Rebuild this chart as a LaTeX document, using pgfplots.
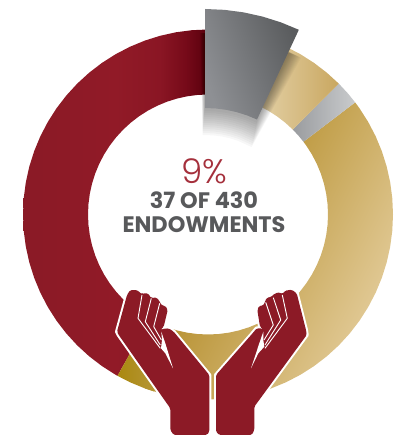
\documentclass[border=0pt]{standalone}
\usepackage{fontspec}
\usepackage{pgfplots}
\usepackage{pgfplotstable}
\pgfplotsset{compat=1.18}
\setmainfont{Poppins}
\newfontfamily\lightfont{Poppins Light}
\newfontfamily\boldfont{Poppins Bold}
\definecolor{redhand}{HTML}{8C1A26}
\definecolor{reda}{HTML}{8A1A26}
\definecolor{redb}{HTML}{911A27}
\definecolor{redm}{HTML}{8A1624}
\definecolor{redn}{HTML}{760A19}
\definecolor{redc}{HTML}{58000D}
\definecolor{greya}{HTML}{8E9094}
\definecolor{greyb}{HTML}{949699}
\definecolor{greyc}{HTML}{5A5C5E}
\definecolor{palea}{HTML}{EADBB8}
\definecolor{paleb}{HTML}{E3CE9C}
\definecolor{palec}{HTML}{C9A760}
\definecolor{banda}{HTML}{9A9C9F}
\definecolor{bandb}{HTML}{C9CBCD}
\definecolor{tana}{HTML}{A67A08}
\definecolor{tanb}{HTML}{E4CD9C}
\definecolor{golda}{HTML}{AA8810}
\definecolor{goldb}{HTML}{B89A40}
\definecolor{txtred}{HTML}{A5303C}
\definecolor{txtgrey}{HTML}{58595B}
\pgfdeclarehorizontalshading{redring}{100bp}{color(0bp)=(reda); color(25bp)=(reda); color(50bp)=(redb); color(62bp)=(redm); color(69bp)=(redn); color(75bp)=(redc); color(100bp)=(redc)}
\pgfplotsset{canvas/.style={hide axis, scale only axis, width=393pt, height=435pt, at={(0,0)}, anchor=south west},
  shadowlayer/.style={data cs=polar, draw=none, fill=black, fill opacity=.03}}
\pgfplotstableread{
x y
173.7 435
170.3 430
170.3 408.3
118.7 335
117 331.7
127 295
130.3 290
137 290
142 294.3
143 293.3
148 293.3
151.3 298.3
152.7 297.7
157 297.7
159.7 301.7
162 305.7
165.3 305.7
167.7 310
163.7 326.7
160.3 330
162 329
168.7 328.3
173.7 331.7
209.3 375
209.3 431.7
207 435
}\lefthand
\pgfplotstableread{
x y
219.3 435
216 431.7
216 375
251.7 334.3
256.7 328.3
261.7 328.3
265 331
260 326.7
257.3 310
259.3 305.7
263.3 305.7
265 301.7
266.7 297.7
271 297
275 293.3
280 292.3
282.3 294.3
285 290.7
291.7 289.7
296.7 293.3
306 330
306.7 335
254.3 406.7
254.3 430
251.7 435
}\righthand
\begin{document}
\begin{tikzpicture}[x=1pt,y=1pt]
\useasboundingbox (0,0) rectangle (393,435);
% ring, polar data round its centre (208,214.5)
\begin{axis}[canvas, xmin=-208, xmax=185, ymin=-220.5, ymax=214.5]
\addplot[data cs=polar, draw=none, shading=redring] coordinates {
(90,185)(95,185)(100,185)(105,185)(110,185)(115,185)(120,185)(125,185)(130,185)(135,185)(140,185)(145,185)(150,185)(155,185)(160,185)(165,185)(170,185)(175,185)(180,185)(185,185)(190,185)(195,185)(200,185)(205,185)(210,185)(215,185)(220,185)(225,185)(230,185)(235,185)(240,185)(240.7,185)
(240.7,120)(240,120)(235,120)(230,120)(225,120)(220,120)(215,120)(210,120)(205,120)(200,120)(195,120)(190,120)(185,120)(180,120)(175,120)(170,120)(165,120)(160,120)(155,120)(150,120)(145,120)(140,120)(135,120)(130,120)(125,120)(120,120)(115,120)(110,120)(105,120)(100,120)(95,120)(90,120)};
\addplot[data cs=polar, draw=none, left color=tana, right color=tanb, shading angle=63] coordinates {
(37.3,185)(35,185)(30,185)(25,185)(20,185)(15,185)(10,185)(5,185)(0,185)(-5,185)(-10,185)(-15,185)(-20,185)(-25,185)(-30,185)(-35,185)(-40,185)(-45,185)(-50,185)(-55,185)(-60,185)(-65,185)(-70,185)(-75,185)(-80,185)(-85,185)(-90,185)(-95,185)(-100,185)(-105,185)(-110,185)
(-110,120)(-105,120)(-100,120)(-95,120)(-90,120)(-85,120)(-80,120)(-75,120)(-70,120)(-65,120)(-60,120)(-55,120)(-50,120)(-45,120)(-40,120)(-35,120)(-30,120)(-25,120)(-20,120)(-15,120)(-10,120)(-5,120)(0,120)(5,120)(10,120)(15,120)(20,120)(25,120)(30,120)(35,120)(37.3,120)};
\addplot[data cs=polar, draw=none, left color=golda, right color=goldb] coordinates {
(240.7,185)(245,185)(250,185)(253,185)(250,120)(245,120)(240.7,120)};
\addplot[data cs=polar, draw=none, left color=banda, right color=bandb] coordinates {
(45,185)(41,185)(37.3,185)(37.3,120)(41,120)(45,120)};
\addplot[data cs=polar, draw=none, left color=palea, middle color=paleb, right color=palec] coordinates {
(75,185)(70,185)(65,185)(60,185)(55,185)(50,185)(45,185)(45,120)(50,120)(55,120)(60,120)(65,120)(70,120)(75,120)};
\end{axis}
% raised grey slice, centred at (205,231)
\begin{axis}[canvas, xmin=-205, xmax=188, ymin=-204, ymax=231]
\addplot[shadowlayer] coordinates {(91.4,198)(75,198)(61,198)(61,96)(70,96)(75,96)(80,96)(85,96)(91.4,96)};
\addplot[shadowlayer] coordinates {(91.3,198)(75,198)(61.3,198)(61.3,98)(70,98)(75,98)(80,98)(85,98)(91.3,98)};
\addplot[shadowlayer] coordinates {(91.2,198)(75,198)(61.6,198)(61.6,100)(70,100)(75,100)(80,100)(85,100)(91.2,100)};
\addplot[shadowlayer] coordinates {(91.1,198)(75,198)(61.9,198)(61.9,102)(70,102)(75,102)(80,102)(85,102)(91.1,102)};
\addplot[shadowlayer] coordinates {(91,198)(75,198)(62.2,198)(62.2,104)(70,104)(75,104)(80,104)(85,104)(91,104)};
\addplot[shadowlayer] coordinates {(90.9,198)(75,198)(62.5,198)(62.5,106)(70,106)(75,106)(80,106)(85,106)(90.9,106)};
\addplot[shadowlayer] coordinates {(90.8,198)(75,198)(62.8,198)(62.8,108)(70,108)(75,108)(80,108)(85,108)(90.8,108)};
\addplot[shadowlayer] coordinates {(90.7,198)(75,198)(63.1,198)(63.1,110)(70,110)(75,110)(80,110)(85,110)(90.7,110)};
\addplot[shadowlayer] coordinates {(90.6,198)(75,198)(63.4,198)(63.4,112)(70,112)(75,112)(80,112)(85,112)(90.6,112)};
\addplot[shadowlayer] coordinates {(90.5,198)(75,198)(63.7,198)(63.7,114)(70,114)(75,114)(80,114)(85,114)(90.5,114)};
\addplot[shadowlayer] coordinates {(90.4,198)(75,198)(64,198)(64,116)(70,116)(75,116)(80,116)(85,116)(90.4,116)};
\addplot[shadowlayer] coordinates {(90.3,198)(75,198)(64.3,198)(64.3,118)(70,118)(75,118)(80,118)(85,118)(90.3,118)};
\addplot[shadowlayer] coordinates {(90.2,198)(75,198)(64.6,198)(64.6,120)(70,120)(75,120)(80,120)(85,120)(90.2,120)};
\addplot[data cs=polar, draw=none, left color=greya, middle color=greyb, right color=greyc, shading angle=110] coordinates {
(90,222)(85,222)(80,222)(75,222)(70,222)(65,222)(65,123)(70,123)(75,123)(80,123)(85,123)(90,123)};
\end{axis}
% hands and text, in picture pixels
\begin{axis}[canvas, xmin=0, xmax=393, ymin=0, ymax=435, y dir=reverse]
\addplot[draw=white, line width=4pt, line join=round] table[x=x,y=y] {\lefthand} --cycle;
\addplot[draw=white, line width=4pt, line join=round] table[x=x,y=y] {\righthand} --cycle;
\addplot[fill=redhand, draw=none, rounded corners=1.5pt] table[x=x,y=y] {\lefthand} --cycle;
\addplot[fill=redhand, draw=none, rounded corners=1.5pt] table[x=x,y=y] {\righthand} --cycle;
% finger gaps
\addplot[white, line width=.9pt, line join=round] coordinates {(142,295)(138,318.3)(160.3,348.3)};
\addplot[white, line width=.9pt, line join=round] coordinates {(151.3,298.3)(145.3,321.7)(160.3,345)};
\addplot[white, line width=.9pt, line join=round] coordinates {(159.7,303.3)(153.7,326.7)(161.3,340)};
\addplot[fill=white, draw=none] coordinates {(161.3,331.7)(165.3,343.3)(173,368.3)(165.3,353.3)(161,348.3)(162,340)};
\addplot[white, line width=.9pt, line join=round] coordinates {(282.3,295)(287.3,318.3)(265,348.3)};
\addplot[white, line width=.9pt, line join=round] coordinates {(273.3,297.7)(280.7,320)(265,345)};
\addplot[white, line width=.9pt, line join=round] coordinates {(265.7,302.3)(273.3,325)(264,340)};
\addplot[fill=white, draw=none] coordinates {(263.3,331.7)(259.3,343.3)(251,368.3)(258.3,353.3)(264.3,346.7)(263.3,340)};
\node[txtred, font=\lightfont\fontsize{34}{34}\selectfont] at (axis cs:204,171) {9\%};
\node[txtgrey, font=\boldfont\fontsize{22.4}{22.4}\selectfont] at (axis cs:204,200) {37 OF 430};
\node[txtgrey, font=\boldfont\fontsize{22.4}{22.4}\selectfont] at (axis cs:204,225) {ENDOWMENTS};
\end{axis}
\end{tikzpicture}
\end{document}
